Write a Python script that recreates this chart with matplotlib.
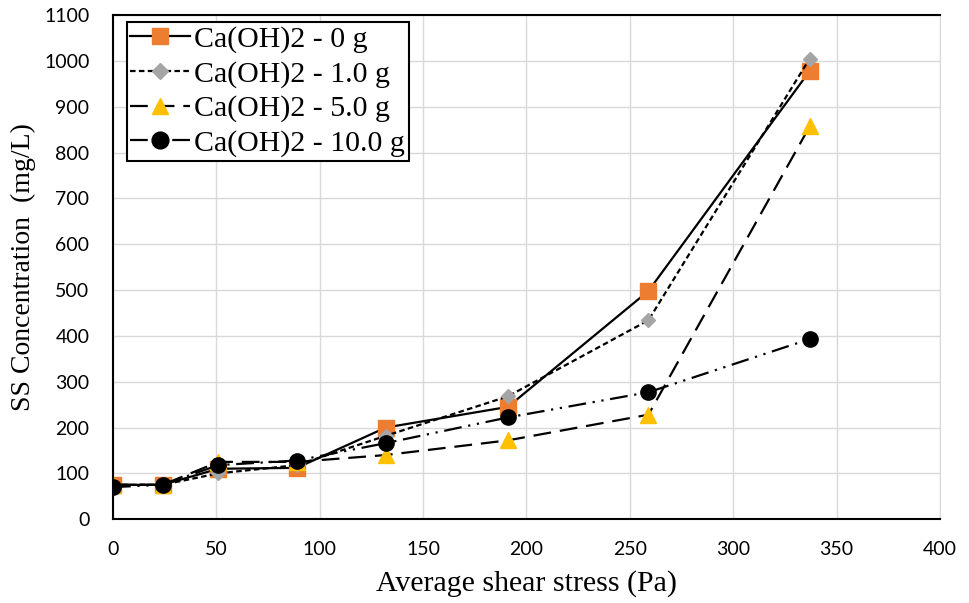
import numpy as np
import matplotlib.pyplot as plt

# shear stress (Pa) and SS concentration (mg/L)
shear = [0, 24, 51, 89, 132, 191, 259, 337]
ss_0g = [75, 75, 110, 112, 200, 245, 498, 978]
ss_1g = [75, 75, 100, 118, 182, 268, 434, 1005]
ss_5g = [75, 75, 125, 125, 140, 172, 228, 857]
ss_10g = [70, 75, 118, 128, 166, 222, 277, 393]

labels = ["Ca(OH)2 - 0 g", "Ca(OH)2 - 1.0 g", "Ca(OH)2 - 5.0 g", "Ca(OH)2 - 10.0 g"]

fig, ax = plt.subplots(figsize=(9.69, 6.03), dpi=100)
fig.subplots_adjust(left=0.1166, right=0.970, top=0.975, bottom=0.139)

ax.plot(shear, ss_0g, color="black", lw=1.6, ls="-",
        marker="s", ms=11, mfc="#ED7D31", mec="#ED7D31", label=labels[0])
ax.plot(shear, ss_1g, color="black", lw=1.6, ls=(0, (2.5, 1.5)),
        marker="D", ms=7.5, mfc="#A5A5A5", mec="#A5A5A5", label=labels[1])
ax.plot(shear, ss_5g, color="black", lw=1.6, ls=(0, (8, 4)),
        marker="^", ms=11, mfc="#FFC000", mec="#FFC000", label=labels[2])
ax.plot(shear, ss_10g, color="black", lw=1.6, ls=(0, (8, 3, 1, 3, 1, 3)),
        marker="o", ms=11, mfc="black", mec="black", label=labels[3])

ax.set_xlim(0, 400)
ax.set_ylim(0, 1100)
ax.set_xticks(np.arange(0, 401, 50))
ax.set_yticks(np.arange(0, 1101, 100))
ax.grid(True, color="#D9D9D9", lw=1)
ax.set_axisbelow(True)

for lab in ax.get_xticklabels() + ax.get_yticklabels():
    lab.set_fontfamily("Lato")
    lab.set_fontsize(14)
ax.tick_params(axis="x", length=0, pad=16)
ax.tick_params(axis="y", length=0, pad=17)

for s in ["left", "bottom", "top"]:
    ax.spines[s].set_color("black")
    ax.spines[s].set_linewidth(1.5)
ax.spines["right"].set_color("#D9D9D9")

ax.set_xlabel("Average shear stress (Pa)", fontfamily="Liberation Serif", fontsize=21.5)
ax.set_ylabel("SS Concentration  (mg/L)", fontfamily="Liberation Serif", fontsize=20)
ax.xaxis.set_label_coords(0.5, -0.127)
ax.xaxis.label.set_va("center")
ax.yaxis.set_label_coords(-0.108, 0.5)
ax.yaxis.label.set_va("center")

leg = ax.legend(loc="upper left", bbox_to_anchor=(0.0165, 0.986), borderaxespad=0,
                prop={"family": "Liberation Serif", "size": 21.5},
                fancybox=False, framealpha=1, edgecolor="black",
                handlelength=2.0, handletextpad=0.15, borderpad=0.12, labelspacing=0.25,
                markerscale=1.1)
leg.get_frame().set_linewidth(1.5)

plt.savefig("out.png", dpi=100)
